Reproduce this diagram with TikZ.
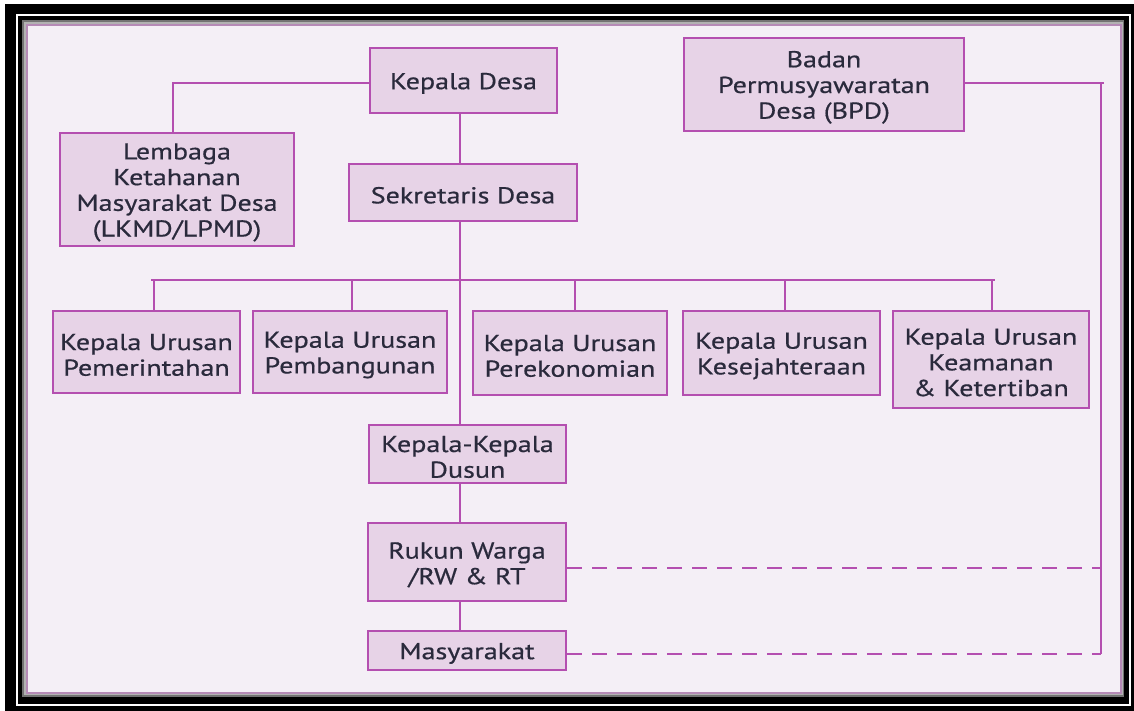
\documentclass[tikz,border=0pt]{standalone}
\usepackage{fontspec}
\setmainfont{PT Sans}[FakeStretch=1.22,FakeBold=0.6]
\definecolor{bg}{HTML}{F4EFF6}
\definecolor{boxfill}{HTML}{E7D3E7}
\definecolor{boxline}{HTML}{B44FB0}
\definecolor{framepurple}{HTML}{B58AB6}
\definecolor{txt}{HTML}{2A2A3C}
\newcommand{\topstrutx}{\rule{0pt}{22pt}}
\begin{document}
\begin{tikzpicture}[x=1pt,y=-1pt,
  box/.style={draw=boxline, line width=2pt, fill=boxfill, align=center, inner sep=0pt,
    font=\fontsize{23}{25.7}\selectfont, text=txt},
  conn/.style={draw=boxline, line width=2pt},
  dashconn/.style={draw=boxline, line width=2pt, dash pattern=on 15pt off 10pt}]
\useasboundingbox (0,0) rectangle (1134,711);
% frame
\fill[white] (0,0) rectangle (1134,711);
\fill[black] (5,4) rectangle (1134,711);
\fill[white] (16,14) rectangle (1131,706);
\fill[black] (18,16) rectangle (1129,704);
\fill[black!55] (22,20) rectangle (1124,697);
\fill[black!30] (24,22) rectangle (1123,695);
\filldraw[draw=framepurple, line width=2.5pt, fill=bg] (27,25) rectangle (1121,693);
% nodes
\node[box, minimum width=187pt, minimum height=65pt] (kd) at (463.5,80.5) {\topstrutx Kepala Desa};
\node[box, minimum width=280pt, minimum height=93pt] (bpd) at (824,84.5) {\topstrutx Badan\\Permusyawaratan\\Desa (BPD)};
\node[box, minimum width=234pt, minimum height=113pt] (lkmd) at (177,189.5) {\topstrutx Lembaga\\Ketahanan\\Masyarakat Desa\\(LKMD/LPMD)};
\node[box, minimum width=228pt, minimum height=57pt] (sek) at (463,192.5) {\topstrutx Sekretaris Desa};
\node[box, minimum width=187pt, minimum height=82pt] (pem) at (146.5,352) {\topstrutx Kepala Urusan\\Pemerintahan};
\node[box, minimum width=194pt, minimum height=82pt] (pemb) at (350,352) {\topstrutx Kepala Urusan\\Pembangunan};
\node[box, minimum width=194pt, minimum height=84pt] (pere) at (570,353) {\topstrutx Kepala Urusan\\Perekonomian};
\node[box, minimum width=197pt, minimum height=84pt] (kes) at (781.5,353) {\topstrutx Kepala Urusan\\Kesejahteraan};
\node[box, minimum width=196pt, minimum height=97pt] (kam) at (991,359.5) {\topstrutx Kepala Urusan\\Keamanan\\\& Ketertiban};
\node[box, minimum width=197pt, minimum height=58pt] (dus) at (467.5,454) {\topstrutx Kepala-Kepala\\Dusun};
\node[box, minimum width=198pt, minimum height=78pt] (rw) at (467,562) {\topstrutx Rukun Warga\\/RW \& RT};
\node[box, minimum width=198pt, minimum height=39pt] (mas) at (467,650.5) {\topstrutx Masyarakat};
% helper coordinates
\coordinate (tr) at (460,0);
\coordinate (bus) at (0,280);
\coordinate (rl) at (1101,0);
% trunk
\draw[conn] (kd.south -| tr) -- (sek.north -| tr);
\draw[conn] (sek.south -| tr) -- (dus.north -| tr);
\draw[conn] (dus.south -| tr) -- (rw.north -| tr);
\draw[conn] (rw.south -| tr) -- (mas.north -| tr);
% bus
\draw[conn] ([xshift=4.5pt]pem.north |- bus) -- ([xshift=4pt]kam.north |- bus);
\draw[conn] ([xshift=7.5pt]pem.north) -- ([xshift=7.5pt]pem.north |- bus);
\draw[conn] ([xshift=2pt]pemb.north) -- ([xshift=2pt]pemb.north |- bus);
\draw[conn] ([xshift=5pt]pere.north) -- ([xshift=5pt]pere.north |- bus);
\draw[conn] ([xshift=3.5pt]kes.north) -- ([xshift=3.5pt]kes.north |- bus);
\draw[conn] ([xshift=1pt]kam.north) -- ([xshift=1pt]kam.north |- bus);
% LKMD
\draw[conn] ([yshift=-2.5pt]kd.west) -| ([xshift=-4pt]lkmd.north);
% BPD and right line
\draw[conn] ([yshift=1.5pt]bpd.east) -- ([yshift=1.5pt,xshift=3pt]bpd.east -| rl);
\draw[conn] ([yshift=1.5pt]bpd.east -| rl) -- ([yshift=-3.5pt]mas.east -| rl);
\draw[dashconn] ([yshift=-6pt]rw.east) -- ([yshift=-6pt]rw.east -| rl);
\draw[dashconn] ([yshift=-3.5pt]mas.east) -- ([yshift=-3.5pt]mas.east -| rl);
\end{tikzpicture}
\end{document}
